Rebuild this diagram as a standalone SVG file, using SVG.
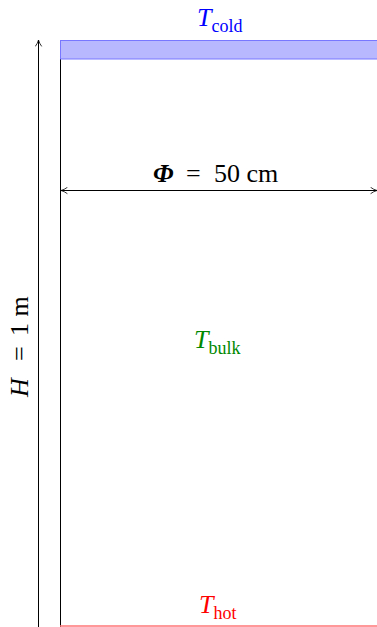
<svg xmlns="http://www.w3.org/2000/svg" width="377" height="627" viewBox="0 0 377 627">
<style>
text{font-family:"Liberation Serif","DejaVu Serif",serif;font-size:26px}
.i{font-style:italic}
.s{font-size:18px}
.ln{stroke:#000;stroke-width:1;fill:none}
</style>
<defs>
<marker id="ah" viewBox="0 0 10 10" refX="9" refY="5" markerWidth="8" markerHeight="8" orient="auto-start-reverse" markerUnits="userSpaceOnUse">
<path d="M1,1 Q5,4 9,5 Q5,6 1,9" fill="none" stroke="#000" stroke-width="1"/>
</marker>
</defs>
<g id="cylinder">
<line class="ln" x1="60.5" y1="59" x2="60.5" y2="627"/>
<rect x="60.5" y="40.5" width="317" height="18.5" fill="#b8b8ff" stroke="#7777ff" stroke-width="1"/>
<line x1="60" y1="626" x2="377" y2="626" stroke="#ff7777" stroke-width="1.5"/>
</g>
<g id="connectors">
<line class="ln" x1="38.5" y1="627" x2="38.5" y2="40" stroke="#555" marker-end="url(#ah)"/>
<line class="ln" x1="61" y1="190.5" x2="377" y2="190.5" marker-start="url(#ah)" marker-end="url(#ah)"/>
</g>
<g id="t-cold"><text x="197" y="26" fill="#0000ff"><tspan class="i">T</tspan><tspan class="s" dy="6">cold</tspan></text></g>
<g id="phi"><text y="182"><tspan x="153" class="i" font-weight="bold">Φ</tspan><tspan x="186">=</tspan><tspan x="214">50 cm</tspan></text></g>
<g id="t-bulk"><text x="194" y="348" fill="#008800"><tspan class="i">T</tspan><tspan class="s" dy="6">bulk</tspan></text></g>
<g id="t-hot"><text x="199" y="613" fill="#ff0000"><tspan class="i">T</tspan><tspan class="s" dy="6">hot</tspan></text></g>
<g id="height"><text transform="translate(28,0) rotate(-90)"><tspan x="-397" class="i">H</tspan><tspan x="-361">=</tspan><tspan x="-336">1 m</tspan></text></g>
</svg>
